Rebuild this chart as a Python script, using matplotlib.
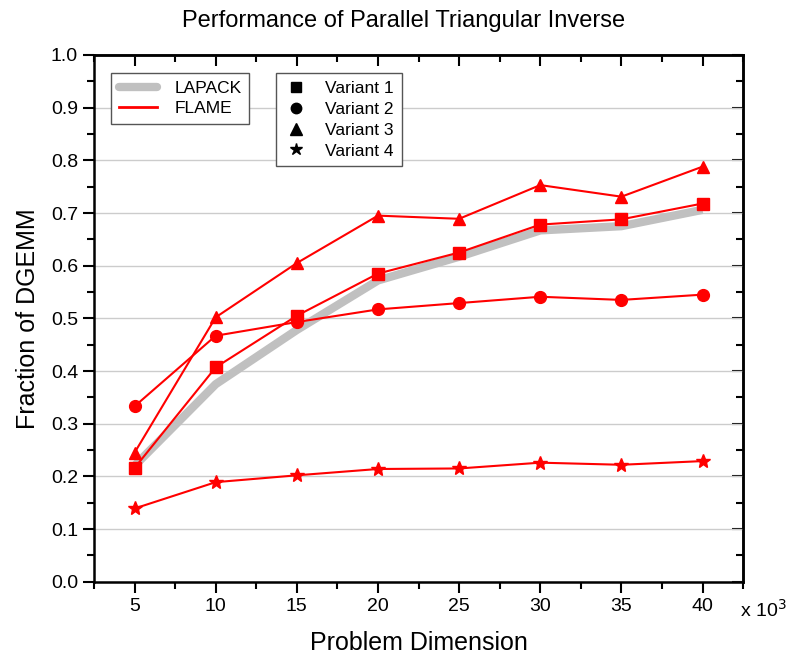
import matplotlib
matplotlib.use('Agg')
import matplotlib.pyplot as plt
from matplotlib.lines import Line2D
from matplotlib.ticker import MultipleLocator

plt.rcParams['font.family'] = ['Liberation Sans', 'DejaVu Sans']

# problem dimension (x 10^3)
sizes = [5, 10, 15, 20, 25, 30, 35, 40]

lapack   = [0.220, 0.375, 0.478, 0.572, 0.617, 0.667, 0.675, 0.706]
variant1 = [0.216, 0.407, 0.505, 0.585, 0.625, 0.678, 0.688, 0.718]
variant2 = [0.333, 0.467, 0.493, 0.517, 0.529, 0.541, 0.535, 0.545]
variant3 = [0.245, 0.502, 0.605, 0.695, 0.689, 0.753, 0.731, 0.788]
variant4 = [0.139, 0.189, 0.202, 0.214, 0.215, 0.226, 0.222, 0.229]

fig = plt.figure(figsize=(7.88, 6.57), dpi=100)
ax = fig.add_axes([0.1193, 0.1146, 0.8237, 0.8017])

ax.plot(sizes, lapack, color='#c0c0c0', lw=6, solid_capstyle='butt', zorder=2)
red = '#ff0000'
ax.plot(sizes, variant1, color=red, lw=1.5, marker='s', ms=8, zorder=3)
ax.plot(sizes, variant2, color=red, lw=1.5, marker='o', ms=8.5, zorder=3)
ax.plot(sizes, variant3, color=red, lw=1.5, marker='^', ms=9, zorder=3)
ax.plot(sizes, variant4, color=red, lw=1.5, marker='*', ms=10, zorder=3)

ax.set_xlim(2.5, 42.5)
ax.set_ylim(0, 1.0)
ax.set_xticks(sizes)
ax.xaxis.set_minor_locator(MultipleLocator(2.5))
ax.yaxis.set_major_locator(MultipleLocator(0.1))
ax.yaxis.set_minor_locator(MultipleLocator(0.05))
ax.set_yticklabels([f'{v:.1f}' for v in ax.get_yticks()])
ax.grid(axis='y', color='#cccccc', lw=1, zorder=0)
ax.set_axisbelow(True)

for s in ax.spines.values():
    s.set_linewidth(1.8)
ax.tick_params(which='both', direction='out', width=1.5, labelsize=14,
               top=False, right=False)
ax.tick_params(which='major', length=8)
ax.tick_params(which='minor', length=5)

# mirrored ticks on top and right, pointing inward
ax2 = ax.secondary_xaxis('top')
ax2.set_xticks(sizes)
ax2.xaxis.set_minor_locator(MultipleLocator(2.5))
ax2.tick_params(which='both', direction='in', width=1.5, labeltop=False)
ax2.tick_params(which='major', length=8)
ax2.tick_params(which='minor', length=5)
ax2.spines['top'].set_linewidth(1.8)
ay2 = ax.secondary_yaxis('right')
ay2.yaxis.set_major_locator(MultipleLocator(0.1))
ay2.yaxis.set_minor_locator(MultipleLocator(0.05))
ay2.tick_params(which='both', direction='in', width=1.5, labelright=False)
ay2.tick_params(which='major', length=8)
ay2.tick_params(which='minor', length=5)
ay2.spines['right'].set_linewidth(1.8)

fig.text(0.512, 0.968, 'Performance of Parallel Triangular Inverse',
         fontsize=17, ha='center', va='center')
ax.set_xlabel('Problem Dimension', fontsize=18, labelpad=12)
ax.set_ylabel('Fraction of DGEMM', fontsize=18, labelpad=8)
ax.text(0.995, -0.032, r'x 10$^3$', transform=ax.transAxes, fontsize=14,
        va='top', ha='left')

h1 = [Line2D([], [], color='#c0c0c0', lw=6, solid_capstyle='round'),
      Line2D([], [], color=red, lw=2)]
leg1 = ax.legend(h1, ['LAPACK', 'FLAME'], loc='upper left',
                 bbox_to_anchor=(0.026, 0.966), borderaxespad=0,
                 fontsize=12.5, fancybox=False, edgecolor='#555555',
                 framealpha=1, handlelength=2.2, handletextpad=1.0,
                 borderpad=0.45, labelspacing=0.3)
leg1.get_frame().set_linewidth(1)
ax.add_artist(leg1)
h2 = [Line2D([], [], ls='', marker=m, color='black', ms=ms)
      for m, ms in [('s', 7), ('o', 7.5), ('^', 8.5), ('*', 9)]]
leg2 = ax.legend(h2, ['Variant 1', 'Variant 2', 'Variant 3', 'Variant 4'],
                 loc='upper left', bbox_to_anchor=(0.280, 0.966),
                 borderaxespad=0, fontsize=12.5, fancybox=False,
                 edgecolor='#555555', framealpha=1, handlelength=1.4,
                 handletextpad=1.0, borderpad=0.45, labelspacing=0.33)
leg2.get_frame().set_linewidth(1)

fig.savefig('out.png', dpi=100)
